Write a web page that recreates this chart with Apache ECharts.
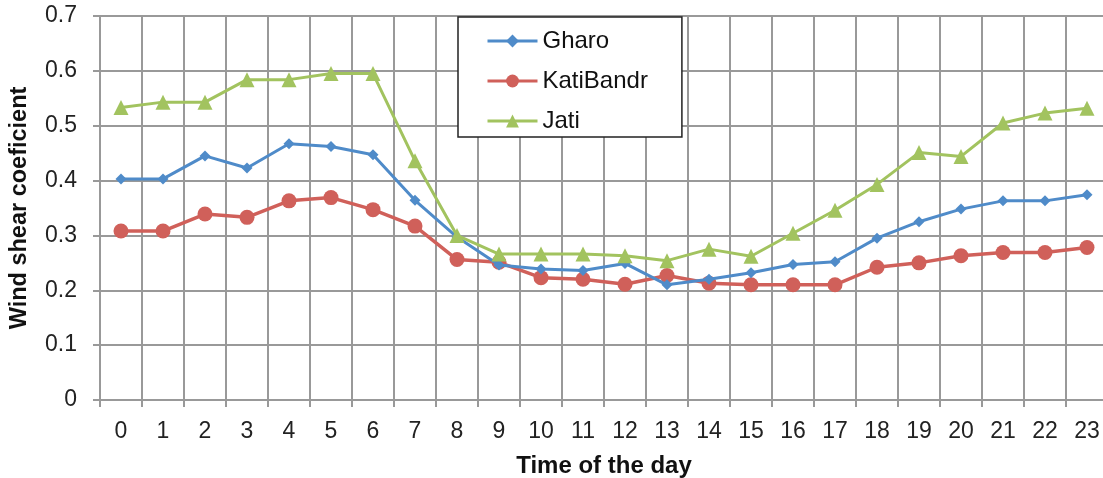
<!DOCTYPE html>
<html>
<head>
<meta charset="utf-8">
<script src="https://cdn.jsdelivr.net/npm/echarts@6/dist/echarts.min.js"></script>
<style>html,body{margin:0;padding:0;background:#fff;overflow:hidden;}#c{width:1103px;height:478px;}</style>
</head>
<body>
<div id="c"></div>
<script>
var hours = ['0','1','2','3','4','5','6','7','8','9','10','11','12','13','14','15','16','17','18','19','20','21','22','23'];
var gharo = [0.403,0.403,0.445,0.423,0.467,0.462,0.447,0.364,0.297,0.246,0.239,0.236,0.249,0.210,0.220,0.232,0.247,0.252,0.295,0.325,0.348,0.363,0.363,0.374];
var katiBandr = [0.308,0.308,0.339,0.333,0.363,0.369,0.347,0.317,0.256,0.251,0.223,0.220,0.211,0.227,0.213,0.210,0.210,0.210,0.242,0.250,0.263,0.269,0.269,0.278];
var jati = [0.533,0.543,0.543,0.584,0.584,0.595,0.595,0.436,0.300,0.266,0.266,0.266,0.263,0.254,0.275,0.262,0.304,0.346,0.393,0.451,0.444,0.505,0.523,0.532];
var seriesNames = ['Gharo','KatiBandr','Jati'];

var font = 'Liberation Sans, Arial, sans-serif';
var chart = echarts.init(document.getElementById('c'), null, {renderer:'canvas'});
chart.setOption({
  animation:false,
  color:['#4F8BC9','#D0605A','#A2C35F'],
  grid:{left:100, top:16, width:1008, height:384, containLabel:false, outerBoundsMode:'none'},
  legend:{
    orient:'vertical', left:458, top:17,
    padding:[12,34,4,28],
    itemWidth:50, itemHeight:16, itemGap:16,
    borderColor:'#222', borderWidth:1.5, backgroundColor:'#fff',
    lineStyle:{width:3},
    textStyle:{fontFamily:font, fontSize:24, color:'#111'},
    data:seriesNames
  },
  xAxis:{
    type:'category', data:hours, boundaryGap:true,
    name:'Time of the day', nameLocation:'middle', nameGap:54,
    nameTextStyle:{fontFamily:font, fontSize:24, fontWeight:'bold', color:'#111'},
    axisLine:{lineStyle:{color:'#999', width:2}},
    axisTick:{show:true, length:7, alignWithLabel:false, lineStyle:{color:'#999', width:2}},
    axisLabel:{fontFamily:font, fontSize:23, color:'#222', margin:20, interval:0},
    splitLine:{show:true, interval:0, lineStyle:{color:'#999', width:2}}
  },
  yAxis:{
    type:'value', min:0, max:0.7, interval:0.1,
    name:'Wind shear coeficient', nameLocation:'middle', nameGap:68, nameRotate:90,
    nameTextStyle:{fontFamily:font, fontSize:23.5, fontWeight:'bold', color:'#111'},
    axisLine:{show:true, lineStyle:{color:'#999', width:2}},
    axisTick:{show:true, length:7, lineStyle:{color:'#999', width:2}},
    axisLabel:{fontFamily:font, fontSize:23, color:'#222', margin:23, formatter:function(v){return +v.toFixed(1);}},
    splitLine:{show:true, lineStyle:{color:'#999', width:2}}
  },
  series:[
    {name:seriesNames[0], type:'line', data:gharo, symbol:'diamond', symbolSize:11, lineStyle:{width:3}, z:3},
    {name:seriesNames[1], type:'line', data:katiBandr, symbol:'circle', symbolSize:15, lineStyle:{width:3.5}, z:2},
    {name:seriesNames[2], type:'line', data:jati, symbol:'triangle', symbolSize:15, lineStyle:{width:3}, z:4}
  ]
});
</script>
</body>
</html>
